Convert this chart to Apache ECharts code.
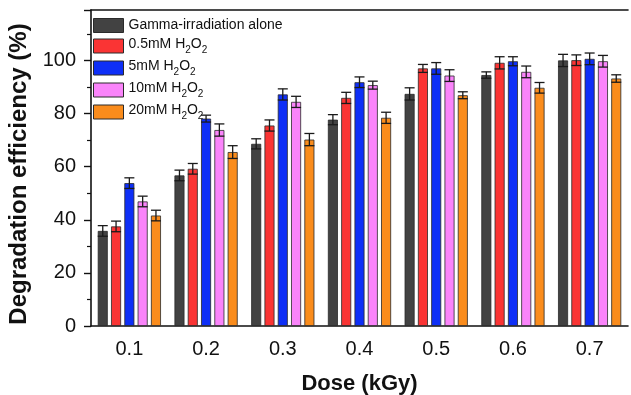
<!DOCTYPE html>
<html>
<head>
<meta charset="utf-8">
<script src="https://cdn.jsdelivr.net/npm/echarts@6/dist/echarts.min.js"></script>
<style>
  html, body { margin: 0; padding: 0; background: #fff; }
  #chart { width: 631px; height: 395px; }
</style>
</head>
<body>
<div id="chart"></div>
<script>
const doses = ["0.1", "0.2", "0.3", "0.4", "0.5", "0.6", "0.7"];
const seriesNames = ["Gamma-irradiation alone", "0.5mM H2O2", "5mM H2O2", "10mM H2O2", "20mM H2O2"];
const colors = ["#424242", "#fa3434", "#0e2ff7", "#fa84fa", "#fa8c1c"];

const gammaAlone = [35.8, 56.7, 68.6, 77.7, 87.4, 94.5, 100.0];
const h2o2_05 = [37.5, 59.2, 75.5, 85.9, 97.0, 99.1, 100.1];
const h2o2_5 = [53.8, 78.1, 87.2, 91.8, 97.0, 99.7, 100.6];
const h2o2_10 = [46.9, 73.8, 84.4, 90.7, 94.3, 95.7, 99.7];
const h2o2_20 = [41.6, 65.5, 70.2, 78.4, 86.9, 89.7, 93.2];

const errGamma = [2.0, 2.0, 1.9, 1.9, 2.3, 1.2, 2.3];
const err05 = [2.0, 2.0, 2.1, 2.1, 1.5, 2.3, 2.0];
const err5 = [2.0, 1.3, 2.1, 2.0, 2.2, 1.7, 2.2];
const err10 = [2.0, 2.3, 2.1, 1.5, 2.2, 2.2, 2.2];
const err20 = [2.0, 2.4, 2.3, 2.1, 1.3, 2.0, 1.4];

const values = [gammaAlone, h2o2_05, h2o2_5, h2o2_10, h2o2_20];
const errors = [errGamma, err05, err5, err10, err20];

const FONT = "'Liberation Sans', Arial, sans-serif";
const BAR_W = 10;
const BAR_PITCH = 13.3;

const chart = echarts.init(document.getElementById("chart"));

// error bars: [category, low, high, series position]
const errData = [];
values.forEach((vals, s) => {
  vals.forEach((v, i) => {
    errData.push([i, v - errors[s][i], v + errors[s][i], s]);
  });
});

function renderErr(params, api) {
  const lo = api.coord([api.value(0), api.value(1)]);
  const hi = api.coord([api.value(0), api.value(2)]);
  const x = lo[0] + (api.value(3) - 2) * BAR_PITCH;
  const half = BAR_W / 2;
  const style = { stroke: "#1a1a1a", lineWidth: 1.3 };
  return {
    type: "group",
    children: [
      { type: "line", shape: { x1: x, y1: lo[1], x2: x, y2: hi[1] }, style },
      { type: "line", shape: { x1: x - half, y1: hi[1], x2: x + half, y2: hi[1] }, style },
      { type: "line", shape: { x1: x - half, y1: lo[1], x2: x + half, y2: lo[1] }, style }
    ]
  };
}

const barSeries = values.map((vals, s) => ({
  name: seriesNames[s],
  type: "bar",
  data: vals,
  barWidth: BAR_W,
  barGap: "33%",
  itemStyle: { color: colors[s], borderColor: "#2a2a2a", borderWidth: 0.8 }
}));

chart.setOption({
  backgroundColor: "#fff",
  animation: false,
  textStyle: { fontFamily: FONT },
  grid: { left: 91, right: 3, top: 10, bottom: 69, outerBoundsMode: "none" },
  legend: {
    left: 93,
    top: 18,
    padding: 0,
    orient: "vertical",
    icon: "rect",
    itemWidth: 30,
    itemHeight: 14,
    itemGap: 3,
    data: seriesNames,
    itemStyle: { borderColor: "#2a2a2a", borderWidth: 1 },
    textStyle: {
      fontFamily: FONT,
      fontSize: 14,
      color: "#111",
      rich: {
        n: { fontFamily: FONT, fontSize: 14, lineHeight: 18, verticalAlign: "top", color: "#111" },
        s: { fontFamily: FONT, fontSize: 10, lineHeight: 9, verticalAlign: "bottom", padding: [9, 0, 0, 0], color: "#111" }
      }
    },
    formatter: name => {
      const m = name.match(/^(.*)H2O2$/);
      if (!m) return name;
      return "{n|" + m[1] + "H}{s|2}{n|O}{s|2}";
    }
  },
  xAxis: [
    {
      type: "category",
      data: doses,
      position: "bottom",
      name: "Dose (kGy)",
      nameLocation: "middle",
      nameGap: 47,
      nameTextStyle: { fontFamily: FONT, fontSize: 22, fontWeight: "bold", color: "#111" },
      axisLine: { lineStyle: { color: "#111", width: 1.6 } },
      axisTick: { alignWithLabel: true, length: 6, lineStyle: { color: "#111", width: 1.4 } },
      axisLabel: { fontFamily: FONT, fontSize: 20, color: "#111", margin: 13 }
    },
    {
      type: "category",
      data: doses,
      position: "bottom",
      axisLine: { show: false },
      axisTick: { alignWithLabel: false, length: 4, lineStyle: { color: "#111", width: 1.2 } },
      axisLabel: { show: false }
    },
    {
      type: "category",
      data: doses,
      position: "top",
      axisLine: { lineStyle: { color: "#111", width: 1.6 } },
      axisTick: { show: false },
      axisLabel: { show: false }
    }
  ],
  yAxis: {
    type: "value",
    min: 0,
    max: 119,
    interval: 20,
    name: "Degradation efficiency (%)",
    nameLocation: "middle",
    nameGap: 46,
    nameTextStyle: { fontFamily: FONT, fontSize: 24, fontWeight: "bold", color: "#111", padding: [0, 12, 0, 0] },
    axisLine: { show: true, lineStyle: { color: "#111", width: 1.6 } },
    axisTick: { show: true, length: 7, lineStyle: { color: "#111", width: 1.4 } },
    minorTick: { show: true, splitNumber: 2, length: 4, lineStyle: { color: "#111", width: 1.2 } },
    splitLine: { show: false },
    axisLabel: { fontFamily: FONT, fontSize: 20, color: "#111", margin: 15, showMaxLabel: false }
  },
  series: [
    ...barSeries,
    {
      type: "custom",
      renderItem: renderErr,
      data: errData,
      encode: { x: 0, y: [1, 2] },
      z: 10,
      silent: true
    }
  ]
});
</script>
</body>
</html>
